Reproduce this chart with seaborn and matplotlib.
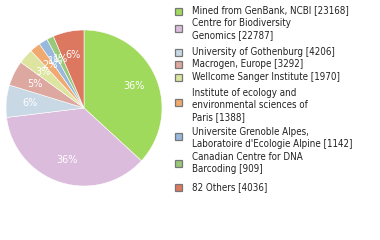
import matplotlib
matplotlib.use("Agg")
import matplotlib.pyplot as plt
import seaborn as sns
import numpy as np
from matplotlib.patches import Rectangle

sns.set_theme(style="white")
plt.rcParams['font.family'] = ['DejaVu Sans']

labels = [
    "Mined from GenBank, NCBI [23168]",
    "Centre for Biodiversity\nGenomics [22787]",
    "University of Gothenburg [4206]",
    "Macrogen, Europe [3292]",
    "Wellcome Sanger Institute [1970]",
    "Institute of ecology and\nenvironmental sciences of\nParis [1388]",
    "Universite Grenoble Alpes,\nLaboratoire d'Ecologie Alpine [1142]",
    "Canadian Centre for DNA\nBarcoding [909]",
    "82 Others [4036]",
]
values = [23168, 22787, 4206, 3292, 1970, 1388, 1142, 909, 4036]
colors = ["#a0da5c", "#dcbcdc", "#c8d8e4", "#dca8a0", "#dce4a0",
          "#f0aa70", "#98b8dc", "#98c878", "#dc7860"]

W, H = 380, 240
fig = plt.figure(figsize=(W / 100, H / 100), dpi=100)

cx, cy, r = 84, 108, 78
ax = fig.add_axes([(cx - r) / W, (H - cy - r) / H, 2 * r / W, 2 * r / H])
wedges, texts, autotexts = ax.pie(
    values, colors=colors, startangle=90, counterclock=False,
    autopct=lambda p: f"{int(p)}%", pctdistance=0.7,
    wedgeprops=dict(linewidth=0.4, edgecolor="white"),
    textprops=dict(color="white", fontsize=7),
)
ax.set_aspect("equal")
ax.set_xlim(-1, 1)
ax.set_ylim(-1, 1)
ax.axis("off")

# legend layout (pixel positions)
sq_y = [11, 27.5, 51.5, 64, 77, 102, 136, 163, 187]
txt_y = [10, 29, 52, 64, 77, 105, 138, 163, 187]
for lab, col, sy, ty in zip(labels, colors, sq_y, txt_y):
    fig.patches.append(Rectangle(((174.5) / W, (H - sy - 4) / H), 7 / W, 7 / H,
                                 transform=fig.transFigure, facecolor=col,
                                 edgecolor="#777777", linewidth=0.9))
    fig.text(192 / W, (H - ty) / H, lab, fontsize=7, color="#222222",
             fontstretch="condensed",
             va="center", ha="left", linespacing=1.3)

fig.savefig("out.png", dpi=100)
